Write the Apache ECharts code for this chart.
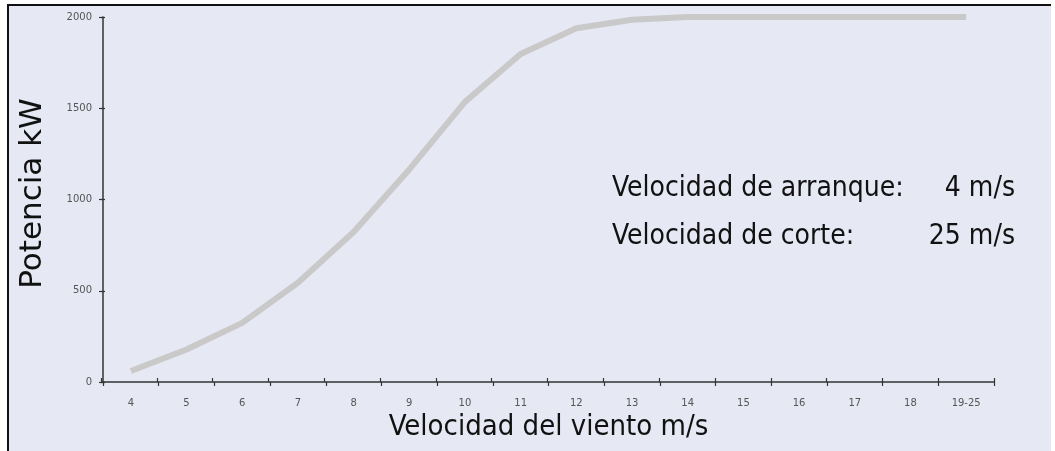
<!DOCTYPE html>
<html>
<head>
<meta charset="utf-8">
<script src="https://cdn.jsdelivr.net/npm/echarts@6/dist/echarts.min.js"></script>
<style>
  html, body { margin: 0; padding: 0; background: #fff; width: 1055px; height: 451px; overflow: hidden; }
  #c {
    position: absolute; left: 7px; top: 4px; width: 1042px; height: 445px;
    border-top: 2px solid #111; border-left: 2px solid #111;
    background: #E6E8F4;
  }
</style>
</head>
<body>
<div id="c"></div>
<script>
// curva de potencia: velocidad del viento (m/s) -> potencia (kW)
const categories = ['4', '5', '6', '7', '8', '9', '10', '11', '12', '13', '14', '15', '16', '17', '18', '19-25']
const potencia = [60, 178, 324, 544, 822, 1165, 1535, 1797, 1938, 1985, 2000, 2000, 2000, 2000, 2000, 2000]
const yTicks = [0, 500, 1000, 1500, 2000]
const notas = [
  ['Velocidad de arranque:', '4 m/s'],
  ['Velocidad de corte:', '25 m/s'],
]

const chart = echarts.init(document.getElementById('c'), null, { renderer: 'canvas' })

const GRID = { left: 92, top: 11, right: 57, bottom: 69 }
const AXIS_COLOR = '#333'
const FONT = '"DejaVu Sans", Verdana, sans-serif'
const FONT_COND = '"DejaVu Sans Condensed", "DejaVu Sans", sans-serif'

// ticks que cruzan el eje: segunda rejilla idéntica con ticks hacia dentro
const TICK = { length: 4, lineStyle: { color: AXIS_COLOR, width: 1.2 } }
const HIDDEN_LINE = { show: true, lineStyle: { color: 'rgba(0,0,0,0)', width: 0 } }
const baseX = (extra) => Object.assign({
  type: 'category',
  data: categories,
  boundaryGap: true,
  axisLine: { show: true, lineStyle: { color: AXIS_COLOR, width: 1.5 } },
  axisTick: Object.assign({ show: true }, TICK),
}, extra)
const baseY = (extra) => Object.assign({
  type: 'value',
  min: yTicks[0],
  max: yTicks[yTicks.length - 1],
  interval: 500,
  splitLine: { show: false },
  axisLine: { show: true, onZero: false, lineStyle: { color: AXIS_COLOR, width: 1.5 } },
  axisTick: Object.assign({ show: true }, TICK),
}, extra)

chart.setOption({
  animation: false,
  backgroundColor: 'transparent',
  grid: [GRID, GRID],
  xAxis: [
    baseX({
      gridIndex: 0,
      name: 'Velocidad del viento m/s',
      nameLocation: 'middle',
      nameGap: 27,
      nameTextStyle: { fontFamily: FONT_COND, fontSize: 29, color: '#111' },
      axisLabel: { margin: 16, fontSize: 10, color: '#555', fontFamily: FONT },
    }),
    baseX({
      gridIndex: 1,
      axisLine: HIDDEN_LINE,
      axisTick: Object.assign({ show: true, inside: true }, TICK),
      axisLabel: { show: false },
    }),
  ],
  yAxis: [
    baseY({
      gridIndex: 0,
      name: 'Potencia kW',
      nameLocation: 'middle',
      nameGap: 55,
      nameTextStyle: { fontFamily: FONT, fontSize: 31, color: '#111', padding: [0, 0, 0, 12] },
      axisLabel: {
        margin: 11, fontSize: 10, color: '#555', fontFamily: FONT,
        formatter: (v) => String(v),
      },
    }),
    baseY({
      gridIndex: 1,
      axisLine: HIDDEN_LINE,
      axisTick: Object.assign({ show: true, inside: true }, TICK),
      axisLabel: { show: false },
    }),
  ],
  series: [{
    type: 'line',
    xAxisIndex: 0,
    yAxisIndex: 0,
    data: potencia,
    showSymbol: false,
    lineStyle: { color: '#C9C9C9', width: 6 },
    z: 3,
  }],
  graphic: notas.flatMap((n, i) => [
    {
      type: 'text', left: 603, top: 169 + i * 48,
      style: { text: n[0], font: '28px ' + FONT_COND, fill: '#111' },
    },
    {
      type: 'text', right: 36, top: 169 + i * 48,
      style: { text: n[1], font: '28px ' + FONT_COND, fill: '#111' },
    },
  ]),
})
</script>
</body>
</html>
